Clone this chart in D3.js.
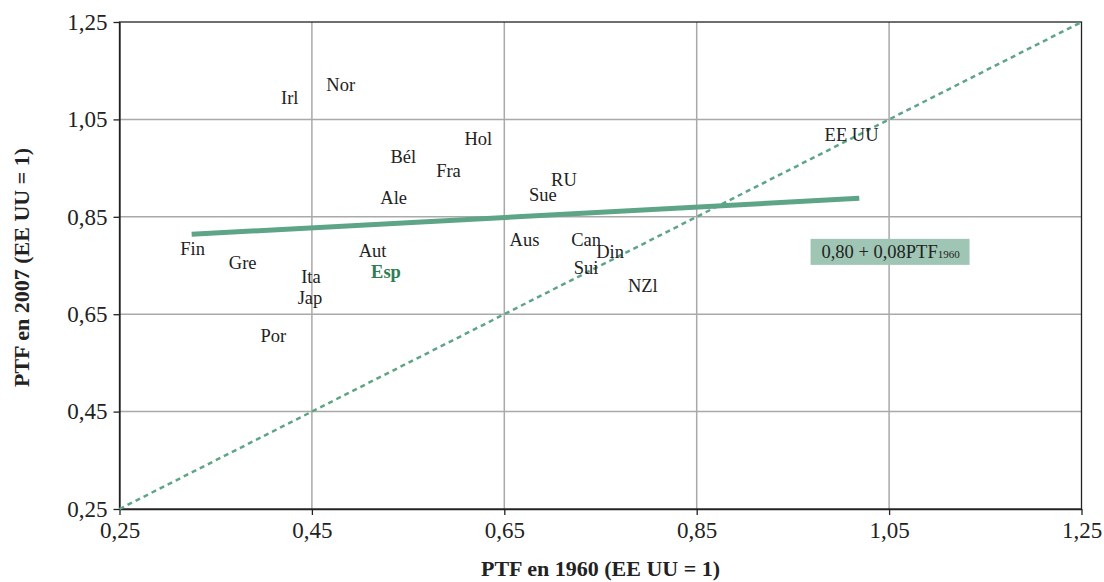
<!DOCTYPE html>
<html>
<head>
<meta charset="utf-8">
<script src="https://cdn.jsdelivr.net/npm/d3@7"></script>
<style>
  body { margin: 0; background: #fff; }
  svg text { font-family: "Liberation Serif", "DejaVu Serif", serif; }
</style>
</head>
<body>
<svg id="chart" width="1104" height="582"></svg>
<script>
// country labels: [name, PTF 1960, PTF 2007]
const countries = ["Irl", "Nor", "Hol", "Bél", "Fra", "Ale", "Sue", "RU", "Aus", "Can", "Din", "Sui", "NZl",
  "Fin", "Gre", "Aut", "Esp", "Ita", "Jap", "Por", "EE UU"]
const ptf1960 = [0.427, 0.480, 0.623, 0.545, 0.592, 0.535, 0.690, 0.712, 0.671, 0.735, 0.760, 0.735, 0.794,
  0.326, 0.378, 0.513, 0.527, 0.449, 0.448, 0.410, 1.011]
const ptf2007 = [1.094, 1.121, 1.010, 0.973, 0.946, 0.889, 0.895, 0.926, 0.804, 0.804, 0.778, 0.745, 0.708,
  0.784, 0.757, 0.780, 0.737, 0.728, 0.685, 0.607, 1.018]
const highlight = "Esp"

const tickValues = [0.25, 0.45, 0.65, 0.85, 1.05, 1.25]
const fitLine = [[0.325, 0.814], [1.019, 0.888]]
const diagonal = [[0.25, 0.25], [1.25, 1.25]]
const equationAt = [1.0515, 0.778]

const svg = d3.select("#chart")
const margin = { top: 22, right: 22.5, bottom: 73, left: 119.5 }
const width = 1104 - margin.left - margin.right
const height = 582 - margin.top - margin.bottom
const g = svg.append("g").attr("transform", `translate(${margin.left},${margin.top})`)

const x = d3.scaleLinear().domain([0.25, 1.25]).range([0, width])
const y = d3.scaleLinear().domain([0.25, 1.25]).range([height, 0])
const fmt = (d) => d3.format(".2f")(d).replace(".", ",")
const green = "#5ea587"

// grid
g.selectAll(".vgrid").data(tickValues.slice(1, -1)).enter().append("line")
  .attr("x1", (d) => x(d)).attr("x2", (d) => x(d)).attr("y1", 0).attr("y2", height)
  .attr("stroke", "#a9a9a9").attr("stroke-width", 1.5)
g.selectAll(".hgrid").data(tickValues.slice(1, -1)).enter().append("line")
  .attr("y1", (d) => y(d)).attr("y2", (d) => y(d)).attr("x1", 0).attr("x2", width)
  .attr("stroke", "#a9a9a9").attr("stroke-width", 1.5)

// frame
g.append("rect").attr("width", width).attr("height", height)
  .attr("fill", "none").attr("stroke", "#222").attr("stroke-width", 1.3)

// axes
const xAxis = d3.axisBottom(x).tickValues(tickValues).tickFormat(fmt).tickSize(6).tickSizeOuter(0)
const yAxis = d3.axisLeft(y).tickValues(tickValues).tickFormat(fmt).tickSize(6).tickSizeOuter(0)
const gx = g.append("g").attr("transform", `translate(0,${height})`).call(xAxis)
const gy = g.append("g").call(yAxis)
for (const ax of [gx, gy]) {
  ax.attr("font-family", null).attr("font-size", null)
  ax.select(".domain").attr("stroke", "#222").attr("stroke-width", 1.3)
  ax.selectAll(".tick line").attr("stroke", "#222").attr("stroke-width", 1.3)
  ax.selectAll(".tick text").attr("fill", "#222").style("font-size", "23px")
}
gx.selectAll(".tick text").attr("dy", "0.95em").attr("y", 7)
gy.selectAll(".tick text").attr("x", -12)

// diagonal 45°
const line = d3.line().x((d) => x(d[0])).y((d) => y(d[1]))
g.append("path").datum(diagonal).attr("d", line)
  .attr("stroke", green).attr("stroke-width", 2.5).attr("stroke-dasharray", "5,4").attr("fill", "none")

// fitted line
g.append("path").datum(fitLine).attr("d", line)
  .attr("stroke", green).attr("stroke-width", 5).attr("fill", "none")

// country labels
const pts = countries.map((c, i) => ({ c, x: ptf1960[i], y: ptf2007[i] }))
g.selectAll(".lbl").data(pts).enter().append("text")
  .attr("x", (d) => x(d.x)).attr("y", (d) => y(d.y))
  .attr("dy", "0.35em")
  .attr("text-anchor", "middle")
  .style("font-size", "18.5px")
  .style("font-weight", (d) => d.c === highlight ? "bold" : "normal")
  .attr("fill", (d) => d.c === highlight ? "#2e7d55" : "#222")
  .text((d) => d.c)

// equation box
const eq = g.append("g").attr("transform", `translate(${x(equationAt[0])},${y(equationAt[1])})`)
eq.append("rect").attr("x", -80).attr("y", -13).attr("width", 159).attr("height", 26).attr("fill", "#9fc6b4")
const eqText = eq.append("text").attr("text-anchor", "middle").attr("dy", "0.35em").attr("fill", "#222")
  .style("font-size", "18.5px")
eqText.append("tspan").text("0,80 + 0,08PTF")
eqText.append("tspan").style("font-size", "11px").text("1960")

// axis titles
svg.append("text").attr("x", margin.left + width / 2).attr("y", 576).attr("text-anchor", "middle")
  .style("font-size", "22px").style("font-weight", "bold").attr("fill", "#222")
  .text("PTF en 1960 (EE UU = 1)")
svg.append("text").attr("transform", `translate(29,${margin.top + height / 2 + 2}) rotate(-90)`)
  .attr("text-anchor", "middle")
  .style("font-size", "22px").style("font-weight", "bold").attr("fill", "#222")
  .text("PTF en 2007 (EE UU = 1)")
</script>
</body>
</html>
